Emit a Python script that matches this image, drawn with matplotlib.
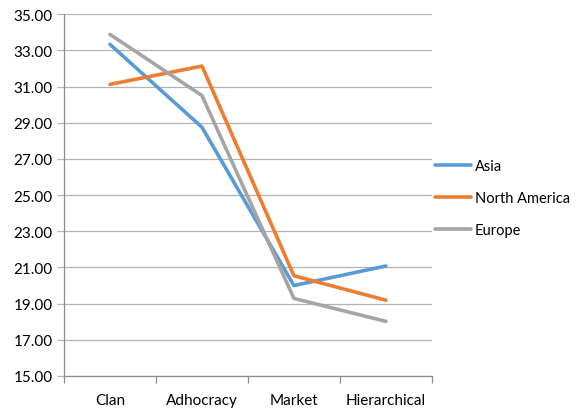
import numpy as np
import matplotlib.pyplot as plt

categories = ['Clan', 'Adhocracy', 'Market', 'Hierarchical']
asia = [33.33, 28.75, 20.00, 21.08]
north_america = [31.12, 32.13, 20.54, 19.19]
europe = [33.88, 30.50, 19.29, 18.02]

plt.rcParams['font.family'] = ['Lato', 'DejaVu Sans']

fig = plt.figure(figsize=(5.82, 4.10), dpi=100)
ax = fig.add_axes([0.110, 0.0805, 0.632, 0.8825])

x = np.arange(len(categories))
ax.plot(x, asia, color='#5B9BD5', lw=2.6, label='Asia', solid_capstyle='round')
ax.plot(x, north_america, color='#ED7D31', lw=2.6, label='North America', solid_capstyle='round')
ax.plot(x, europe, color='#A5A5A5', lw=2.6, label='Europe', solid_capstyle='round')

ax.set_xlim(-0.5, 3.5)
ax.set_ylim(15, 35)
ax.set_yticks(np.arange(15, 36, 2))
ax.set_yticklabels(['%.2f' % v for v in np.arange(15, 36, 2)], fontsize=11)
ax.yaxis.grid(True, color='#B3B3B3', lw=0.9)
ax.set_axisbelow(True)

# tick marks sit between categories, labels sit under them
ax.set_xticks(np.arange(-0.5, 4, 1))
ax.set_xticklabels([])
ax.set_xticks(x, minor=True)
ax.set_xticklabels(categories, minor=True, fontsize=11)
ax.tick_params(axis='x', which='major', length=5, color='#8C8C8C', width=0.9)
ax.tick_params(axis='x', which='minor', length=0, pad=12)
ax.tick_params(axis='y', length=5, color='#B3B3B3', width=0.9, pad=3)

for side in ['top', 'right']:
    ax.spines[side].set_visible(False)
for side in ['left', 'bottom']:
    ax.spines[side].set_color('#8C8C8C')
    ax.spines[side].set_linewidth(0.9)

ax.legend(loc='center left', bbox_to_anchor=(435 / 582, 1 - 199 / 410),
          bbox_transform=fig.transFigure, frameon=False, borderaxespad=0,
          borderpad=0, fontsize=10.5, handlelength=2.5, handletextpad=0.25,
          labelspacing=1.25)

fig.savefig('out.png', dpi=100)
